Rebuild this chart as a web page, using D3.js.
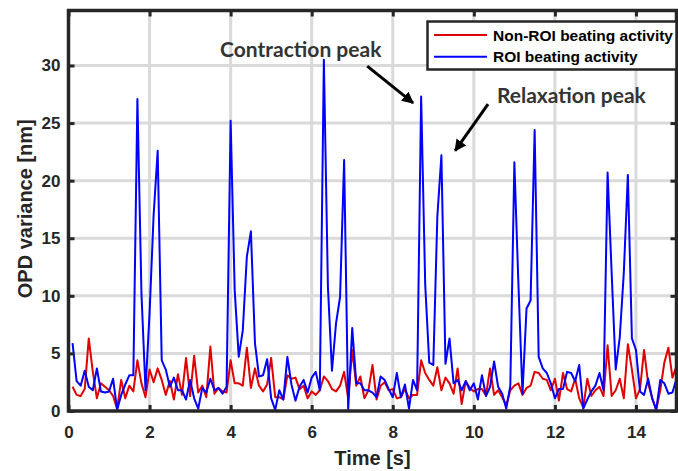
<!DOCTYPE html>
<html>
<head>
<meta charset="utf-8">
<script src="https://cdn.jsdelivr.net/npm/d3@7"></script>
<style>
  body { margin: 0; background: #fff; }
  svg { display: block; }
</style>
</head>
<body>
<div id="chart"></div>
<script>
// sampled every 0.1 s, first sample at 0.1 s
const tStart = 0.1;
const tStep = 0.1;

const seriesNames = ["Non-ROI beating activity", "ROI beating activity"];
const seriesColors = ["#e00000", "#0000ff"];

const nonRoi = [
  2.1, 1.4, 1.3, 1.9, 6.3, 3.4, 1.1, 2.4, 2.1, 1.8,
  1.3, 0.2, 2.7, 1.1, 2.2, 1.7, 4.4, 2.4, 1.2, 3.6,
  2.5, 3.7, 2.7, 1.4, 2.6, 1.0, 3.2, 1.4, 4.6, 1.3,
  4.8, 1.6, 2.2, 1.2, 5.6, 1.5, 2.0, 1.7, 1.6, 4.4,
  2.4, 2.4, 2.2, 5.5, 2.0, 3.7, 2.2, 1.7, 2.3, 4.6,
  1.2, 1.2, 1.0, 3.1, 2.8, 2.9, 1.9, 2.2, 1.1, 1.7,
  1.4, 1.8, 3.0, 2.6, 1.9, 1.7, 2.2, 3.4, 1.1, 5.3,
  2.2, 3.0, 1.1, 1.8, 4.0, 1.0, 2.2, 2.5, 1.8, 1.9,
  1.1, 1.2, 1.9, 1.1, 1.4, 1.4, 4.4, 3.3, 2.7, 2.2,
  3.8, 1.8, 2.9, 2.4, 1.5, 3.7, 0.6, 2.6, 2.0, 1.7,
  1.9, 1.9, 1.35, 3.7, 1.4, 1.8, 1.2, 0.5, 1.8, 2.2,
  2.4, 1.4, 2.0, 2.2, 3.4, 3.3, 2.8, 2.7, 1.8, 2.8,
  0.9, 3.3, 1.9, 1.7, 2.8, 1.1, 0.3, 2.8, 1.3, 1.8,
  2.1, 1.3, 5.7, 1.3, 1.8, 2.8, 1.1, 5.8, 3.6, 1.1,
  1.9, 5.3, 2.4, 1.1, 0.1, 1.8, 4.2, 5.5, 2.9, 3.9
];

const roi = [
  5.9, 2.6, 2.2, 3.5, 2.1, 1.8, 3.7, 1.7, 1.6, 1.7,
  2.8, 0.1, 1.4, 2.3, 3.1, 3.1, 27.1, 10.2, 1.8, 8.5,
  17.0, 22.6, 4.4, 3.6, 2.1, 2.9, 1.8, 1.8, 1.0, 2.7,
  1.1, 0.2, 2.0, 1.6, 2.8, 1.8, 2.0, 1.5, 2.1, 25.2,
  10.5, 4.7, 7.0, 13.4, 15.6, 5.9, 3.0, 3.1, 4.5, 1.1,
  0.1, 1.8, 1.0, 4.7, 2.3, 0.9, 2.1, 2.7, 1.6, 2.9,
  3.4, 1.8, 30.5, 10.8, 3.5, 7.6, 9.9, 21.8, 0.1, 7.2,
  2.4, 2.4, 1.8, 1.8, 1.6, 1.2, 3.0, 2.7, 1.9, 1.2,
  3.3, 1.2, 2.3, 0.2, 2.7, 1.8, 27.3, 11.0, 4.2, 4.0,
  16.9, 22.2, 4.1, 6.3, 2.4, 2.7, 1.8, 2.6, 1.8, 2.4,
  1.0, 3.1, 1.3, 2.1, 4.3, 2.1, 1.5, 0.2, 2.2, 21.6,
  11.0, 1.5, 8.9, 9.6, 24.4, 4.7, 3.7, 3.3, 2.4, 1.1,
  1.9, 1.9, 3.4, 3.3, 2.6, 4.0, 0.2, 1.0, 1.7, 2.2,
  3.3, 1.8, 20.7, 12.0, 3.6, 6.4, 12.0, 20.5, 6.3, 5.3,
  1.7, 1.4, 2.8, 1.1, 0.1, 2.7, 2.4, 1.5, 1.6, 2.8
];

const xTicks = [0, 2, 4, 6, 8, 10, 12, 14];
const yTicks = [0, 5, 10, 15, 20, 25, 30];

const annotations = [
  {text: "Contraction peak", x: 3.74, y: 30.75, from: [7.37, 29.95], to: [8.5, 26.75]},
  {text: "Relaxation peak", x: 10.57, y: 26.75, from: [10.35, 26.65], to: [9.54, 22.6]}
];

const width = 678, height = 471;
const plot = {left: 68.5, right: 676.5, top: 10.5, bottom: 411};
const ink = "#262626";

const svg = d3.select("#chart").append("svg")
  .attr("width", width)
  .attr("height", height)
  .attr("font-family", "'Liberation Sans', Arial, sans-serif");

svg.append("rect").attr("width", width).attr("height", height).attr("fill", "#fff");

const x = d3.scaleLinear()
  .domain([0, 15])
  .range([plot.left, plot.right]);

// y(30) sits at 65.5 px
const yPerUnit = (plot.bottom - 65.5) / 30;
const y = d3.scaleLinear()
  .domain([0, (plot.bottom - plot.top) / yPerUnit])
  .range([plot.bottom, plot.top]);

// grid
const grid = svg.append("g").attr("stroke", "#dadada").attr("stroke-width", 3);
grid.selectAll(".gx")
  .data(xTicks.slice(1))
  .join("line")
  .attr("x1", d => x(d)).attr("x2", d => x(d))
  .attr("y1", plot.top).attr("y2", plot.bottom);
grid.selectAll(".gy")
  .data(yTicks.slice(1))
  .join("line")
  .attr("x1", plot.left).attr("x2", plot.right)
  .attr("y1", d => y(d)).attr("y2", d => y(d));

// series
const line = d3.line()
  .x((d, i) => x(tStart + i * tStep))
  .y(d => y(d));

[nonRoi, roi].forEach((vals, k) => {
  svg.append("path")
    .datum(vals)
    .attr("d", line)
    .attr("fill", "none")
    .attr("stroke", seriesColors[k])
    .attr("stroke-width", 2)
    .attr("stroke-linejoin", "round");
});

// axes, ticks pointing inward
const styleAxis = g => {
  g.select(".domain").remove();
  g.selectAll(".tick line").attr("stroke", ink).attr("stroke-width", 3);
  g.selectAll(".tick text")
    .attr("fill", ink)
    .attr("font-size", 17)
    .attr("font-weight", "bold");
};

svg.append("g")
  .attr("transform", `translate(0,${plot.bottom})`)
  .call(d3.axisBottom(x).tickValues(xTicks).tickSizeInner(-6).tickSizeOuter(0).tickPadding(15))
  .call(styleAxis);
svg.append("g")
  .attr("transform", `translate(0,${plot.top})`)
  .call(d3.axisTop(x).tickValues(xTicks).tickSizeInner(-6).tickSizeOuter(0).tickFormat(""))
  .call(styleAxis);
svg.append("g")
  .attr("transform", `translate(${plot.left},0)`)
  .call(d3.axisLeft(y).tickValues(yTicks).tickSizeInner(-6).tickSizeOuter(0).tickPadding(8))
  .call(styleAxis);
svg.append("g")
  .attr("transform", `translate(${plot.right},0)`)
  .call(d3.axisRight(y).tickValues(yTicks).tickSizeInner(-6).tickSizeOuter(0).tickFormat(""))
  .call(styleAxis);

svg.append("rect")
  .attr("x", plot.left).attr("y", plot.top)
  .attr("width", plot.right - plot.left)
  .attr("height", plot.bottom - plot.top)
  .attr("fill", "none")
  .attr("stroke", ink)
  .attr("stroke-width", 3.5);

// axis titles
svg.append("text")
  .attr("x", (plot.left + plot.right) / 2)
  .attr("y", 465)
  .attr("text-anchor", "middle")
  .attr("font-size", 20)
  .attr("font-weight", "bold")
  .attr("fill", ink)
  .text("Time [s]");
svg.append("text")
  .attr("transform", `translate(32,${(plot.top + plot.bottom) / 2 - 2}) rotate(-90)`)
  .attr("text-anchor", "middle")
  .attr("font-size", 20)
  .attr("font-weight", "bold")
  .attr("fill", ink)
  .text("OPD variance [nm]");

// annotations
svg.append("defs").append("marker")
  .attr("id", "head")
  .attr("markerUnits", "userSpaceOnUse")
  .attr("viewBox", "0 -5 10 10")
  .attr("refX", 9).attr("refY", 0)
  .attr("markerWidth", 12).attr("markerHeight", 12)
  .attr("orient", "auto")
  .append("path")
  .attr("d", "M0,-5L10,0L0,5Z")
  .attr("fill", "#000");

annotations.forEach(a => {
  svg.append("text")
    .attr("x", x(a.x))
    .attr("y", y(a.y))
    .attr("font-family", "Lato, 'Open Sans', sans-serif")
    .attr("font-size", 21)
    .attr("font-weight", "bold")
    .attr("fill", "#333")
    .text(a.text);
  svg.append("line")
    .attr("x1", x(a.from[0])).attr("y1", y(a.from[1]))
    .attr("x2", x(a.to[0])).attr("y2", y(a.to[1]))
    .attr("stroke", "#000")
    .attr("stroke-width", 3)
    .attr("marker-end", "url(#head)");
});

// legend
const legend = svg.append("g");
legend.append("rect")
  .attr("x", 427.5).attr("y", 21.5)
  .attr("width", 249).attr("height", 48)
  .attr("fill", "#fff")
  .attr("stroke", ink)
  .attr("stroke-width", 2.5);
seriesNames.forEach((name, i) => {
  const ly = 35 + i * 21.7;
  legend.append("line")
    .attr("x1", 434).attr("x2", 487)
    .attr("y1", ly).attr("y2", ly)
    .attr("stroke", seriesColors[i])
    .attr("stroke-width", 2);
  legend.append("text")
    .attr("x", 493).attr("y", ly)
    .attr("dy", "0.36em")
    .attr("font-size", 15.5)
    .attr("font-weight", "bold")
    .attr("fill", "#000")
    .text(name);
});
</script>
</body>
</html>
